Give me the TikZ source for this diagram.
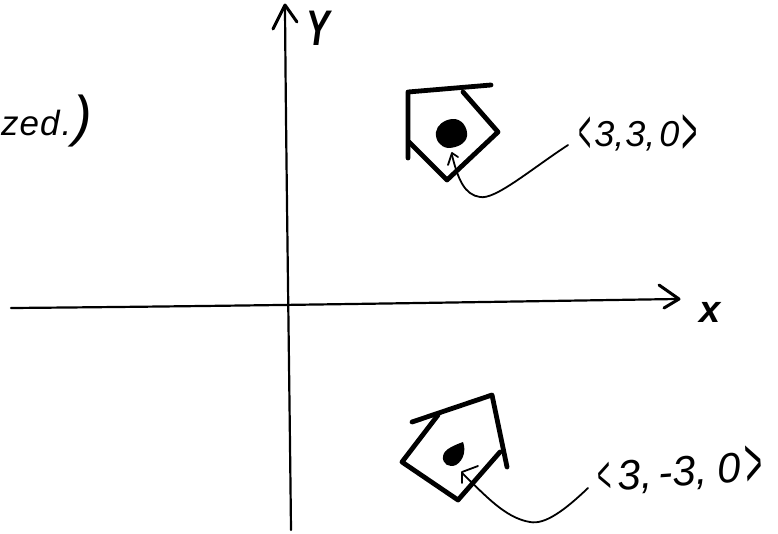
\documentclass[tikz,border=0pt]{standalone}
\usepackage{fontspec}
\setmainfont{Liberation Sans}
\newcommand{\lb}[3]{\raisebox{#3}{\scalebox{#1}[#2]{<}}}
\newcommand{\rb}[3]{\raisebox{#3}{\scalebox{#1}[#2]{>}}}
\tikzset{
  ink/.style={line width=1.8pt,line cap=round,line join=round,black},
  axis ink/.style={line width=2.2pt,line cap=round,line join=round,black},
  head ink/.style={line width=3pt,line cap=round,line join=round,black},
  thick ink/.style={line width=4.8pt,line cap=round,line join=round,black},
  hand/.style={inner sep=0pt,font=\itshape\fontsize{36}{36}\selectfont},
  hand large/.style={inner sep=0pt,font=\itshape\fontsize{42}{42}\selectfont},
  axis label/.style={inner sep=0pt,font=\bfseries\itshape\fontsize{38}{38}\selectfont}
}
\begin{document}
\begin{tikzpicture}[x=1pt,y=-1pt]
\useasboundingbox (0,0) rectangle (778,533);
% axes
\draw[axis ink] (291,530) .. controls (289,350) and (286,150) .. (285,8);
\draw[head ink] (273,29) -- (285,5) -- (297,22);
\draw[axis ink] (11,308) .. controls (250,306) and (480,302) .. (677,299);
\draw[head ink] (659,285) -- (679,299) -- (664,308);
\node[axis label,font=\bfseries\itshape\fontsize{50}{50}\selectfont] (ylabel) at (318,28) {\scalebox{0.7}[1]{Y}};
\node[axis label] (xlabel) at (710,312) {x};
% upper house
\draw[thick ink] (491,85) -- (408,92) -- (408,158);
\draw[thick ink] (409,142) -- (447,180) -- (498,132) -- (463,92);
\fill (452,119) .. controls (462,118) and (468,128) .. (467,136)
  .. controls (466,144) and (456,148) .. (448,148)
  .. controls (440,147) and (435,140) .. (436,132)
  .. controls (437,125) and (444,120) .. (452,119) -- cycle;
\draw[ink] (568,145) .. controls (530,170) and (495,200) .. (480,197)
  .. controls (465,195) and (458,180) .. (452,155);
\draw[ink] (448,165) -- (452,153) -- (458,157);
\node[hand] (upper) at (638,135) {\lb{0.6}{1.75}{-7pt}\hspace{3pt}3,\hspace{1pt}3,\hspace{4pt}0\hspace{2pt}\rb{0.75}{1.9}{-8pt}};
% lower house
\draw[thick ink] (412,422) -- (492,395) -- (507,467);
\draw[thick ink] (438,415) -- (402,462) -- (458,500) -- (500,452);
\fill (463,442) .. controls (466,450) and (464,460) .. (456,465)
  .. controls (449,468) and (442,464) .. (443,456)
  .. controls (444,449) and (455,445) .. (463,442) -- cycle;
\draw[ink] (588,488) .. controls (565,510) and (545,525) .. (530,522)
  .. controls (505,518) and (485,495) .. (462,473);
\draw[ink] (478,466) -- (462,472) -- (462,483);
\node[hand large,rotate=4] (lower) at (680,471) {\lb{0.55}{1.25}{-2pt}\hspace{6pt}3,\hspace{6pt}-3,\hspace{11pt}0\hspace{4pt}\rb{0.7}{1.7}{-6pt}};
% note, cut off by the left edge in the reference
\node[hand,anchor=base west,font=\itshape\fontsize{35}{35}\selectfont] (note) at (1,135) {z\hspace{1pt}e\hspace{1pt}d\hspace{2pt}.\hspace{2pt}{\fontsize{56}{56}\selectfont)}};
\end{tikzpicture}
\end{document}
